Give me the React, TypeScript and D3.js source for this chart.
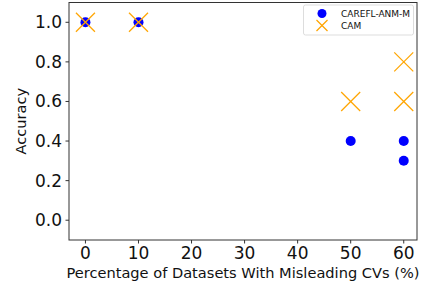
import * as d3 from 'd3'

const carefl = [
	{ pct: 0, acc: 1.0 },
	{ pct: 10, acc: 1.0 },
	{ pct: 50, acc: 0.4 },
	{ pct: 60, acc: 0.4 },
	{ pct: 60, acc: 0.3 },
]
const cam = [
	{ pct: 0, acc: 1.0 },
	{ pct: 10, acc: 1.0 },
	{ pct: 50, acc: 0.6 },
	{ pct: 60, acc: 0.6 },
	{ pct: 60, acc: 0.8 },
]
const xTicks = [0, 10, 20, 30, 40, 50, 60]
const yTicks = [0, 0.2, 0.4, 0.6, 0.8, 1.0]

const width = 422
const height = 287
const left = 69
const right = 417
const top = 2.5
const bottom = 240
const font = 'DejaVu Sans, sans-serif'

const App = () => {
	const x = d3.scaleLinear().domain([-3.1, 62.5]).range([left, right])
	const y = d3.scaleLinear().domain([-0.1, 1.1]).range([bottom, top])
	const xs = 9.5

	const cross = (cx: number, cy: number, s: number, key: string | number) => (
		<g key={key} stroke="#ffa500" strokeWidth={1.2}>
			<line x1={cx - s} y1={cy - s} x2={cx + s} y2={cy + s} />
			<line x1={cx - s} y1={cy + s} x2={cx + s} y2={cy - s} />
		</g>
	)

	return (
		<svg
			width={width}
			height={height}
			style={{ position: 'absolute', left: 0, top: 0, fontFamily: font }}
		>
			<rect x={0} y={0} width={width} height={height} fill="#fff" />
			{/* ticks */}
			{xTicks.map((t) => (
				<g key={'x' + t}>
					<line x1={x(t)} x2={x(t)} y1={bottom} y2={bottom + 3.5} stroke="#333" />
					<text x={x(t)} y={bottom + 18.5} textAnchor="middle" fontSize={17} fill="#111">
						{t}
					</text>
				</g>
			))}
			{yTicks.map((t) => (
				<g key={'y' + t}>
					<line x1={left - 3.5} x2={left} y1={y(t)} y2={y(t)} stroke="#333" />
					<text x={left - 7} y={y(t) + 6} textAnchor="end" fontSize={17} fill="#111">
						{t.toFixed(1)}
					</text>
				</g>
			))}
			<text x={243} y={278} textAnchor="middle" fontSize={14.6} fill="#111">
				Percentage of Datasets With Misleading CVs (%)
			</text>
			<text
				transform={`translate(26, ${(top + bottom) / 2}) rotate(-90)`}
				textAnchor="middle"
				fontSize={14.6}
				fill="#111"
			>
				Accuracy
			</text>
			{/* points */}
			{carefl.map((d, i) => (
				<circle key={'c' + i} cx={x(d.pct)} cy={y(d.acc)} r={5} fill="#0000ff" />
			))}
			{cam.map((d, i) => cross(x(d.pct), y(d.acc), xs, 'm' + i))}
			{/* legend */}
			<rect
				x={303.5}
				y={5}
				width={110}
				height={30}
				rx={2}
				fill="#fff"
				fillOpacity={0.8}
				stroke="#ddd"
			/>
			<circle cx={322} cy={13.5} r={4.5} fill="#0000ff" />
			{cross(322, 25.5, 5.5, 'lg')}
			<text x={341} y={17} fontSize={9} fill="#111">
				CAREFL-ANM-M
			</text>
			<text x={341} y={29} fontSize={9} fill="#111">
				CAM
			</text>
			<rect
				x={left}
				y={top}
				width={right - left}
				height={bottom - top}
				fill="none"
				stroke="#333"
			/>
		</svg>
	)
}

export default App
